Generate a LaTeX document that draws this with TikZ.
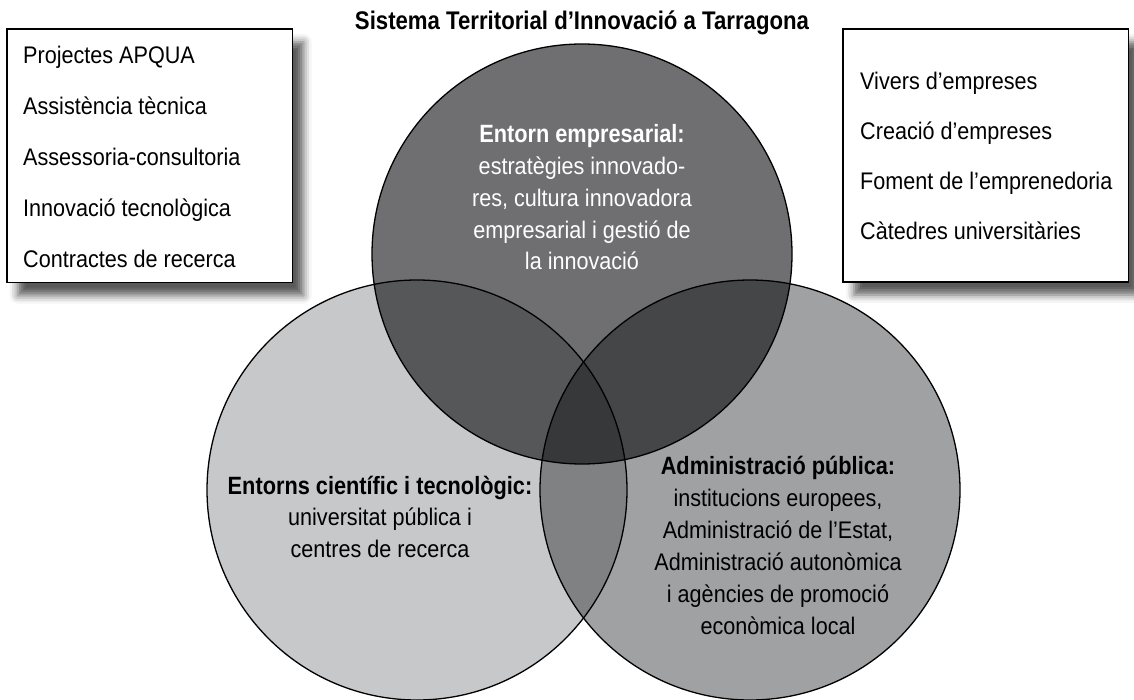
\documentclass[tikz,border=0pt]{standalone}
\usepackage{fontspec}
\setmainfont{Liberation Sans}[FakeStretch=0.9,BoldFeatures={FakeStretch=0.87}]
\usetikzlibrary{shadows.blur}
\definecolor{cTop}{RGB}{111,111,113}
\definecolor{cLeft}{RGB}{199,200,202}
\definecolor{cRight}{RGB}{160,161,163}
\definecolor{cTL}{RGB}{86,87,89}
\definecolor{cTR}{RGB}{69,70,72}
\definecolor{cLR}{RGB}{128,129,131}
\definecolor{cAll}{RGB}{55,56,58}
\newcommand{\hd}[1]{{\fontsize{25}{31.8}\selectfont\bfseries #1}}
\begin{document}
\begin{tikzpicture}[x=1pt,y=-1pt,
  infobox/.style={draw=black,line width=1.8pt,fill=white,inner sep=0pt,
    blur shadow={shadow xshift=11pt,shadow yshift=-13pt,shadow blur radius=8pt,shadow opacity=65}},
  boxtext/.style={align=left,anchor=base west,inner sep=0pt,font=\fontsize{24}{51}\selectfont},
  venntext/.style={align=center,anchor=base,inner sep=0pt,font=\fontsize{24}{31.8}\selectfont},
  ring/.style={draw=black,line width=1.3pt}]
\useasboundingbox (0,0) rectangle (1134,700);
\clip (0,0) rectangle (1134,700);
% circle centres
\coordinate (T) at (582,254);
\coordinate (L) at (417,490);
\coordinate (R) at (750,490);
\def\rad{210pt}
% base fills
\fill[cLeft] (L) circle[radius=\rad];
\fill[cRight] (R) circle[radius=\rad];
\fill[cTop] (T) circle[radius=\rad];
\begin{scope}
  \clip (L) circle[radius=\rad];
  \fill[cLR] (R) circle[radius=\rad];
\end{scope}
\begin{scope}
  \clip (T) circle[radius=\rad];
  \fill[cTL] (L) circle[radius=\rad];
  \fill[cTR] (R) circle[radius=\rad];
  \clip (L) circle[radius=\rad];
  \fill[cAll] (R) circle[radius=\rad];
\end{scope}
\draw[ring] (L) circle[radius=\rad];
\draw[ring] (R) circle[radius=\rad];
\draw[ring] (T) circle[radius=\rad];
% title
\node[anchor=base,inner sep=0pt,font=\fontsize{25.5}{28}\selectfont\bfseries] (title) at (582,30)
  {Sistema Territorial d’Innovació a Tarragona};
% boxes
\node[infobox,minimum width=285.8pt,minimum height=253.5pt] (lbox) at (149.6,155.8) {};
\node[infobox,minimum width=285.5pt,minimum height=252.7pt] (rbox) at (985.8,155.4) {};
\node[boxtext] (ltext) at (23,268)
  {Projectes APQUA\\Assistència tècnica\\Assessoria-consultoria\\Innovació tecnològica\\Contractes de recerca};
\node[boxtext,font=\fontsize{24}{50}\selectfont] (rtext) at (860,240)
  {Vivers d’empreses\\Creació d’empreses\\Foment de l’emprenedoria\\Càtedres universitàries};
% circle texts
\node[venntext,text=white] (ttext) at (582,270)
  {\hd{Entorn empresarial:}\\estratègies innovado-\\res, cultura innovadora\\empresarial i gestió de\\la innovació};
\node[venntext,font=\fontsize{24}{31.5}\selectfont] (ltext2) at (380,557)
  {\hd{Entorns científic i tecnològic:}\\universitat pública i\\centres de recerca};
\node[venntext,font=\fontsize{24}{32}\selectfont] (rtext2) at (778,634)
  {\hd{Administració pública:}\\institucions europees,\\Administració de l’Estat,\\Administració autonòmica\\i agències de promoció\\econòmica local};
\end{tikzpicture}
\end{document}
